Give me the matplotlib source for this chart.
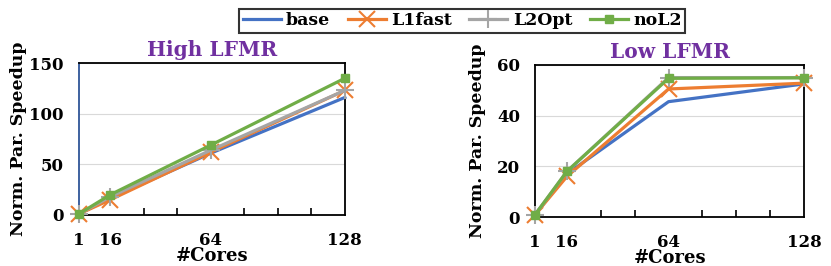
import matplotlib
matplotlib.use("Agg")
import matplotlib.pyplot as plt
from matplotlib.ticker import MultipleLocator, FixedLocator

cores = [1, 16, 64, 128]
series = ["base", "L1fast", "L2Opt", "noL2"]
high_lfmr = {
    "base": [1, 16.5, 61, 116],
    "L1fast": [1, 15, 62, 123],
    "L2Opt": [1, 18, 64, 123],
    "noL2": [1, 20, 69, 135],
}
low_lfmr = {
    "base": [1, 17, 45.5, 52.5],
    "L1fast": [1, 16, 50.5, 52.8],
    "L2Opt": [1, 18, 55, 55],
    "noL2": [1, 18, 54.7, 54.9],
}

styles = {
    "base": dict(color="#4472C4", marker=None),
    "L1fast": dict(color="#ED7D31", marker="x", markersize=11, markeredgewidth=1.5),
    "L2Opt": dict(color="#A5A5A5", marker="+", markersize=13, markeredgewidth=1.5),
    "noL2": dict(color="#70AD47", marker="s", markersize=6),
}

plt.rcParams["font.family"] = ["DejaVu Serif"]
plt.rcParams["font.weight"] = "bold"

fig = plt.figure(figsize=(8.31, 2.66), dpi=100)
ax1 = fig.add_axes([0.095, 0.192, 0.320, 0.571])
ax2 = fig.add_axes([0.644, 0.184, 0.3235, 0.572])


def draw(ax, data, title, ymax, ystep, left_color, ylab_x):
    for i, name in enumerate(series):
        ax.plot(cores, data[name], label=name, linewidth=2.3, clip_on=False,
                zorder=3 + i, **styles[name])
    ax.set_xlim(1, 128)
    ax.set_ylim(0, ymax)
    ax.yaxis.set_major_locator(MultipleLocator(ystep))
    ax.xaxis.set_major_locator(FixedLocator(cores))
    ax.xaxis.set_minor_locator(FixedLocator([16, 32, 48, 64, 80, 96, 112]))
    ax.tick_params(axis="x", which="major", length=0, labelsize=12, pad=12)
    ax.tick_params(axis="x", which="minor", direction="in", length=5, width=1.2)
    ax.tick_params(axis="y", length=0, labelsize=12, pad=11)
    ax.grid(axis="y", color="#D9D9D9", linewidth=0.8)
    ax.set_axisbelow(True)
    for sp in ax.spines.values():
        sp.set_linewidth(1.3)
        sp.set_color("black")
    ax.spines["left"].set_color(left_color)
    ax.set_title(title, color="#7030A0", fontsize=14.5, fontweight="bold", pad=5)
    ax.set_ylabel("Norm. Par. Speedup", fontsize=12.5, fontweight="bold")
    ax.yaxis.set_label_coords(ylab_x, 0.5)
    ax.set_xlabel("#Cores", fontsize=13, fontweight="bold", labelpad=-1)


draw(ax1, high_lfmr, "High LFMR", 150, 50, "#2F5597", -0.195)
draw(ax2, low_lfmr, "Low LFMR", 60, 20, "black", -0.182)

handles, labels = ax1.get_legend_handles_labels()
leg = fig.legend(handles, labels, loc="upper center", bbox_to_anchor=(0.556, 1.0),
                 ncol=4, fontsize=12.5, frameon=True, fancybox=False,
                 handlelength=2.2, handletextpad=0.3, columnspacing=1.0,
                 borderpad=0.2)
leg.get_frame().set_edgecolor("black")
leg.get_frame().set_linewidth(1.5)

fig.savefig("out.png", dpi=100)
